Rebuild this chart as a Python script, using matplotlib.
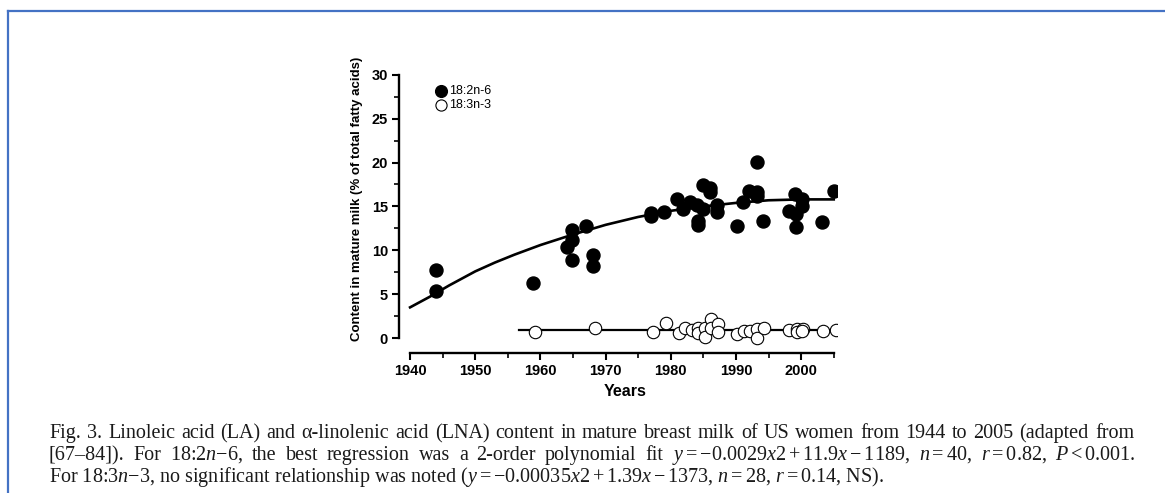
import numpy as np
import matplotlib.pyplot as plt
from matplotlib.lines import Line2D
from matplotlib.transforms import IdentityTransform

plt.rcParams['font.family'] = ['Liberation Sans', 'DejaVu Sans']
plt.rcParams['mathtext.fontset'] = 'custom'
plt.rcParams['mathtext.rm'] = 'Liberation Serif'
plt.rcParams['mathtext.it'] = 'Liberation Serif:italic'
plt.rcParams['mathtext.bf'] = 'Liberation Serif:bold'

# 18:2n-6 (filled circles)
la_years = [1944.0, 1944.0, 1958.9, 1964.0, 1964.9, 1964.9, 1964.9, 1967.0, 1968.0, 1968.0,
            1977.0, 1977.0, 1979.0, 1980.9, 1981.9, 1983.0, 1984.0, 1984.1, 1984.1, 1984.9,
            1985.0, 1986.0, 1986.0, 1987.1, 1987.1, 1990.1, 1991.1, 1992.0, 1993.2, 1993.3,
            1993.3, 1994.2, 1998.2, 1999.1, 1999.2, 1999.2, 2000.1, 2000.1, 2003.2, 2005.1]
la_values = [7.7, 5.4, 6.3, 10.4, 11.2, 12.3, 8.9, 12.8, 9.5, 8.2,
             14.3, 13.9, 14.4, 15.8, 14.7, 15.5, 15.2, 13.3, 12.9, 17.4,
             14.7, 17.1, 16.6, 15.2, 14.4, 12.8, 15.5, 16.8, 20.1, 16.6,
             16.2, 13.3, 14.5, 16.4, 14.1, 12.6, 15.8, 15.1, 13.2, 16.8]

# 18:3n-3 (open circles)
lna_years = [1959.2, 1968.3, 1977.2, 1979.3, 1981.3, 1982.2, 1983.2, 1984.2, 1984.2, 1985.2,
             1985.2, 1986.1, 1986.1, 1987.2, 1987.2, 1990.2, 1991.3, 1992.1, 1993.3, 1993.3,
             1994.3, 1998.2, 1999.3, 1999.3, 2000.3, 2000.2, 2003.3, 2005.4]
lna_values = [0.65, 1.2, 0.7, 1.7, 0.6, 1.2, 0.9, 1.2, 0.6, 1.2,
              0.1, 2.2, 1.1, 1.6, 0.65, 0.5, 0.75, 0.75, 1.0, 0.0,
              1.2, 0.95, 1.0, 0.65, 1.0, 0.85, 0.75, 0.87]

# fitted curves
la_fit_years = [1940, 1943, 1946, 1950, 1953, 1956, 1960, 1965, 1970, 1975, 1980, 1985, 1990, 1995, 2000, 2005]
la_fit_values = [3.5, 4.7, 6.0, 7.6, 8.6, 9.5, 10.6, 11.8, 12.9, 13.8, 14.5, 15.0, 15.4, 15.7, 15.8, 15.8]
lna_fit_years = [1956.7, 2005.2]
lna_fit_values = [0.95, 0.95]

x_ticks = [1940, 1950, 1960, 1970, 1980, 1990, 2000]
y_ticks = [0, 5, 10, 15, 20, 25, 30]

W, H = 1165, 493
fig = plt.figure(figsize=(W / 100, H / 100), dpi=100)
ax = fig.add_axes([399 / W, 1 - 353 / H, 438 / W, 280 / H])

ax.plot(la_fit_years, la_fit_values, color='black', lw=1.9, zorder=2)
ax.plot(lna_fit_years, lna_fit_values, color='black', lw=1.6, zorder=2)
ax.scatter(la_years, la_values, s=88, color='black', zorder=3, label='18:2n-6')
ax.scatter(lna_years, lna_values, s=80, facecolor='white', edgecolor='black', lw=0.8,
           zorder=3, label='18:3n-3')

ax.set_xlim(1938.3, 2005.5)
ax.set_ylim(-1.7, 30.2)
for s in ['top', 'right']:
    ax.spines[s].set_visible(False)
ax.spines['left'].set_bounds(0, 30)
ax.spines['bottom'].set_bounds(1940, 2005)
ax.spines['left'].set_linewidth(1.7)
ax.spines['bottom'].set_linewidth(1.7)

ax.set_xticks(x_ticks)
ax.set_xticks(np.arange(1945, 2006, 10), minor=True)
ax.set_yticks(y_ticks)
ax.set_yticks(np.arange(2.5, 30, 5), minor=True)
ax.tick_params(which='major', length=5, width=1.5, labelsize=10.5, pad=3)
ax.tick_params(which='minor', length=3.5, width=1.2)
for lab in ax.get_xticklabels() + ax.get_yticklabels():
    lab.set_fontweight('bold')

ax.set_xlabel('Years', fontsize=11.5, fontweight='bold')
ax.xaxis.set_label_coords(0.516, -0.11)
ax.set_ylabel('Content in mature milk (% of total fatty acids)', fontsize=9.5, fontweight='bold')
ax.yaxis.set_label_coords(-0.082, 0.55)

ax.legend(loc='upper left', bbox_to_anchor=(435 / W, 1 - 85 / H), bbox_transform=fig.transFigure,
          frameon=False, fontsize=9, handletextpad=0.15, labelspacing=0.2, borderpad=0,
          borderaxespad=0, markerscale=0.9, handlelength=1.0)

# blue frame
blue = '#4472C4'
fig.add_artist(Line2D([8 / W, 1], [1 - 11 / H, 1 - 11 / H], color=blue, lw=1.6,
                      transform=fig.transFigure))
fig.add_artist(Line2D([8 / W, 8 / W], [1 - 11 / H, 0], color=blue, lw=1.6,
                      transform=fig.transFigure))

# caption
cap_kw = dict(family='Liberation Serif', fontsize=14.5, color='#1a1a1a', va='baseline',
              transform=IdentityTransform())
line1 = ['Fig.', '3.', 'Linoleic', 'acid', '(LA)', 'and', '\u03b1-linolenic', 'acid', '(LNA)', 'content',
         'in', 'mature', 'breast', 'milk', 'of', 'US', 'women', 'from', '1944', 'to', '2005',
         '(adapted', 'from']
line2 = ['[67\u201384]).', 'For', '18:2$n$\u22126,', 'the', 'best', 'regression', 'was', 'a', '2-order',
         'polynomial', 'fit', r'$y = -0.0029x2 + 11.9x - 1189$,', '$n = 40$,', '$r = 0.82$,',
         '$P < 0.001$.']
line3 = ('For 18:3$n$\u22123, no significant relationship was noted '
         r'($y = -0.00035x2 + 1.39x - 1373$, $n = 28$, $r = 0.14$, NS).')

renderer = fig.canvas.get_renderer()


def justify(words, base, x0, x1):
    arts = [fig.text(0, base, w, **cap_kw) for w in words]
    widths = [a.get_window_extent(renderer).width for a in arts]
    gap = (x1 - x0 - sum(widths)) / (len(words) - 1)
    x = x0
    for a, w in zip(arts, widths):
        a.set_x(x)
        x += w + gap


justify(line1, H - 438, 49, 1134)
justify(line2, H - 460, 49, 1136)
fig.text(49, H - 482, line3, **cap_kw)

fig.savefig('out.png', dpi=100)
